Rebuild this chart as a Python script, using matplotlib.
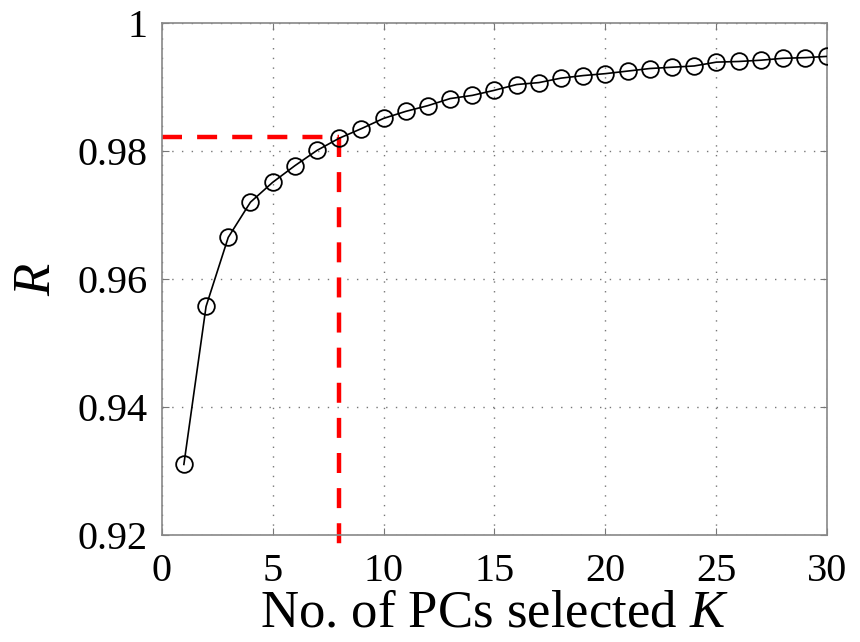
import matplotlib.pyplot as plt

# Retained ratio R vs number of PCs selected K
K = list(range(1, 31))
R = [0.9310, 0.9557, 0.9665, 0.9720, 0.9751, 0.9777, 0.9801, 0.9820, 0.9835, 0.9851,
     0.9862, 0.9871, 0.9882, 0.9887, 0.9895, 0.9904, 0.9907, 0.9914, 0.9918, 0.9921,
     0.9925, 0.9929, 0.9931, 0.9933, 0.9939, 0.9940, 0.9942, 0.9945, 0.9946, 0.9948]

K_sel = 8
R_sel = 0.9822

xticks = [0, 5, 10, 15, 20, 25, 30]
yticks = [0.92, 0.94, 0.96, 0.98, 1.0]
ytick_labels = ['0.92', '0.94', '0.96', '0.98', '1']

plt.rcParams['font.family'] = ['Liberation Serif', 'DejaVu Serif']
plt.rcParams['mathtext.fontset'] = 'custom'
plt.rcParams['mathtext.it'] = 'Liberation Serif:italic'
plt.rcParams['mathtext.rm'] = 'Liberation Serif'

fig = plt.figure(figsize=(8.6, 6.42), dpi=100)
ax = fig.add_axes([0.188, 0.167, 0.774, 0.797])

ax.plot(K, R, color='black', lw=1.2, marker='o', markersize=12,
        markerfacecolor='none', markeredgecolor='black', markeredgewidth=1.3, zorder=3)

# selected K markers
ax.plot([0, K_sel], [R_sel, R_sel], color='red', lw=3.2, dashes=(4.5, 3.4), zorder=2)
ax.plot([K_sel, K_sel], [R_sel, 0.9185], color='red', lw=3.2, dashes=(4.5, 3.4),
        clip_on=False, zorder=2)

ax.set_xlim(0, 30)
ax.set_ylim(0.92, 1.0)
ax.set_xticks(xticks)
ax.set_yticks(yticks)
ax.set_yticklabels(ytick_labels)
ax.grid(True, linestyle=(0, (1, 6)), color='#777777', lw=1.0)
ax.tick_params(direction='in', length=5, color='#777777', labelsize=29,
               top=True, right=True)
ax.tick_params(axis='x', pad=13)
ax.tick_params(axis='y', pad=10)
for s in ax.spines.values():
    s.set_color('#888888')
    s.set_linewidth(1.2)

ax.set_xlabel('No. of PCs selected $K$', fontsize=38, labelpad=0)
ax.set_ylabel('$R$', fontsize=38, labelpad=12)

plt.savefig('out.png', dpi=100)
